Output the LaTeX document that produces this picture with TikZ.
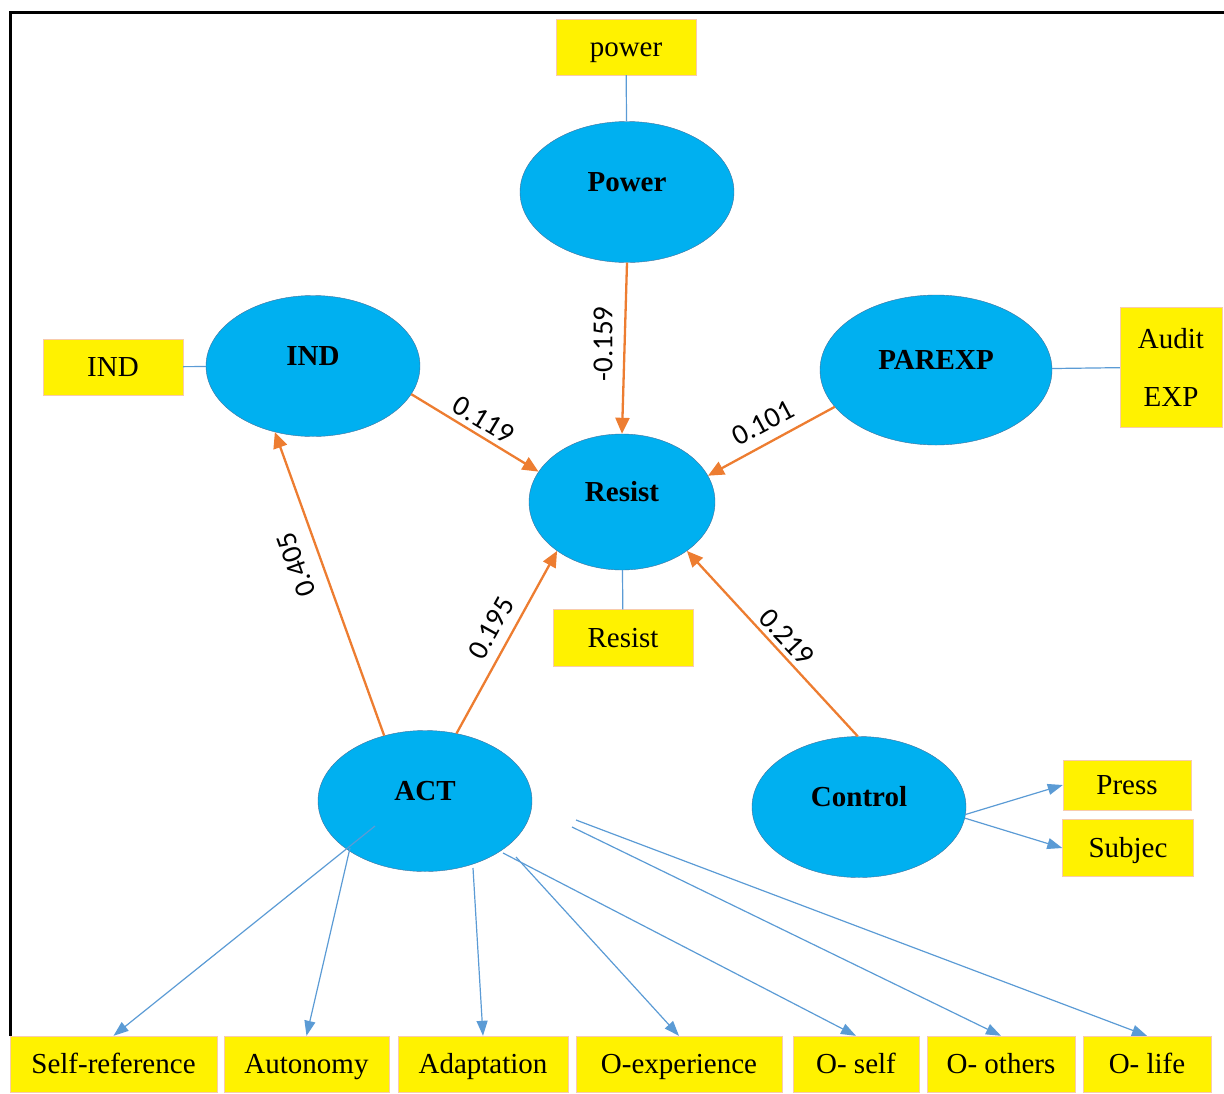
\documentclass[tikz,border=0pt]{standalone}
\usepackage{fontspec}
\setmainfont{Liberation Serif}
\newfontfamily\coeffont{Carlito}
\usetikzlibrary{shapes.geometric,arrows.meta}
\definecolor{latblue}{HTML}{00B0F0}
\definecolor{latedge}{HTML}{41719C}
\definecolor{pathorange}{HTML}{ED7D31}
\definecolor{loadblue}{HTML}{5B9BD5}
\definecolor{boxedge}{HTML}{F8CBAD}
\begin{document}
\begin{tikzpicture}[x=1pt,y=-1pt,
    latent/.style = {ellipse,draw=latedge,fill=latblue,inner sep=0pt,
        minimum width=214pt,minimum height=141pt,
        font=\fontsize{29}{35}\selectfont\bfseries,
        text height=20pt,text depth=22pt},
    indic/.style = {rectangle,draw=boxedge,fill=yellow,inner sep=0pt,
        minimum height=56pt,font=\fontsize{29}{35}\selectfont,
        text height=25pt,text depth=7pt},
    effect/.style = {draw=pathorange,line width=2.3pt,-{Triangle[length=16pt,width=14pt]}},
    loading/.style = {draw=loadblue,line width=1.2pt,-{Triangle[length=15pt,width=11pt]}},
    link/.style = {draw=loadblue,line width=1.2pt},
    coef/.style = {font=\coeffont\fontsize{29}{35}\selectfont,inner sep=0pt}]
                \useasboundingbox (0,0) rectangle (1224,1093);
                \draw[line width=3pt] (10,1036) -- (10,12) -- (1224,12);

                % latent variables
                \node[latent] (power) at (627,192) {Power};
                \node[latent] (ind) at (313,366) {IND};
                \node[latent,minimum width=232pt,minimum height=150pt] 
                    (parexp) at (936,370) {PAREXP};
                \node[latent,minimum width=186pt,minimum height=136pt] 
                    (resist) at (622,502) {Resist};
                \node[latent] (act) at (425,801) {ACT};
                \node[latent] (control) at (859,807) {Control};

                % indicators
                \node[indic,minimum width=140pt] (powerbox) at (626,47) {power};
                \node[indic,minimum width=140pt] (indbox) at (113,367) {IND};
                \node[indic,minimum width=102pt,minimum height=120pt,align=center,
                    text height=,text depth=] 
                    (auditbox) at (1171,367) {Audit\\[23pt]EXP};
                \node[indic,minimum width=140pt,minimum height=57pt] 
                    (resistbox) at (623,638) {Resist};
                \node[indic,minimum width=128pt,minimum height=50pt] 
                    (pressbox) at (1127,785) {Press};
                \node[indic,minimum width=131pt,minimum height=57pt] 
                    (subjbox) at (1128,848) {Subjec};
                \foreach \nm/\cx/\bw/\txt in {selfref/113.5/207/Self-reference,
                        autonomy/306.5/165/Autonomy, adaptation/483/170/Adaptation,
                        oexp/679/206/O-experience, oself/856/126/O- self,
                        oothers/1001/148/O- others, olife/1147/128/O- life}
                    \node[indic,minimum width=\bw pt] (\nm) at (\cx,1064) {\txt};

                \draw[link] (powerbox) -- (power);
                \draw[link] (indbox) -- (ind);
                \draw[link] (parexp) -- (auditbox);
                \draw[link] (resist) -- (resistbox);

                % paths
                \draw[effect] (power.south) -- (resist.north);
                \draw[effect] (ind.-16) -- (resist.160);
                \draw[effect] (parexp.200) -- (resist.17);
                \draw[effect] (act.122) -- (ind.240);
                \draw[effect] (act.65) -- (resist.217);
                \draw[effect] (control.91) -- (resist.-37);

                \node[coef,rotate=90] (c1) at (603,344) {-0.159};
                \node[coef,rotate=-31] (c2) at (484,420) {0.119};
                \node[coef,rotate=28] (c3) at (763,423) {0.101};
                \node[coef,rotate=110] (c4) at (296,565) {0.405};
                \node[coef,rotate=61] (c5) at (491,628) {0.195};
                \node[coef,rotate=-47] (c6) at (787,637) {0.219};

                % loadings
                \foreach \sx/\sy/\tg in {375/826/selfref, 350/848/autonomy,
                        473/868/adaptation, 516/857/oexp, 503/853/oself,
                        572/827/oothers, 576/820/olife} {
                    \coordinate (from\tg) at (\sx,\sy);
                    \draw[loading] (from\tg) -- (\tg.north);
                }
                \draw[loading] (control.-4) -- (pressbox.west);
                \draw[loading] (control.-6) -- (subjbox.west);
            \end{tikzpicture}
\end{document}
